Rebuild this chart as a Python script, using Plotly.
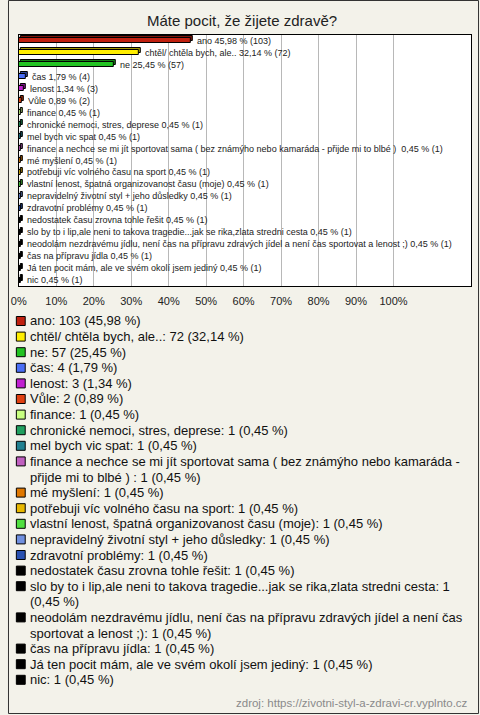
import unicodedata
import plotly.graph_objects as go

# ---------------- data ----------------
title = "Máte pocit, že žijete zdravě?"
source = "zdroj: https://zivotni-styl-a-zdravi-cr.vyplnto.cz"

labels = [
    "ano",
    "chtěl/ chtěla bych, ale..",
    "ne",
    "čas",
    "lenost",
    "Vůle",
    "finance",
    "chronické nemoci, stres, deprese",
    "mel bych vic spat",
    "finance a nechce se mi jít sportovat sama ( bez známýho nebo kamaráda - přijde mi to blbé ) ",
    "mé myšlení",
    "potřebuji víc volného času na sport",
    "vlastní lenost, špatná organizovanost času (moje)",
    "nepravidelný životní styl + jeho důsledky",
    "zdravotní problémy",
    "nedostatek času zrovna tohle řešit",
    "slo by to i lip,ale neni to takova tragedie...jak se rika,zlata stredni cesta",
    "neodolám nezdravému jídlu, není čas na přípravu zdravých jídel a není čas sportovat a lenost ;)",
    "čas na přípravu jídla",
    "Já ten pocit mám, ale ve svém okolí jsem jediný",
    "nic",
]
counts = [103, 72, 57, 4, 3, 2, 1, 1, 1, 1, 1, 1, 1, 1, 1, 1, 1, 1, 1, 1, 1]
percents = [45.98, 32.14, 25.45, 1.79, 1.34, 0.89, 0.45, 0.45, 0.45, 0.45, 0.45,
            0.45, 0.45, 0.45, 0.45, 0.45, 0.45, 0.45, 0.45, 0.45, 0.45]
colors = ["#c0200f", "#ffee00", "#22c322", "#4a6ef5", "#c020d0", "#e04010",
          "#c8ff80", "#20a060", "#208090", "#c060c0", "#e07800", "#e8b800",
          "#50e040", "#7090e0", "#2850b0", "#000000", "#000000", "#000000",
          "#000000", "#000000", "#000000"]
tick_values = [0, 10, 20, 30, 40, 50, 60, 70, 80, 90, 100]
tick_labels = [f"{v}%" for v in tick_values]

# ---------------- layout helpers ----------------
W, H = 480, 715
FONT = "Liberation Sans, Arial, sans-serif"
PX = lambda x: x / W
PY = lambda y: 1 - y / H

def fmt(v):
    return f"{v:.2f}".replace(".", ",")

def darker(hexc, f=0.65):
    r, g, b = int(hexc[1:3], 16), int(hexc[3:5], 16), int(hexc[5:7], 16)
    return f"rgb({int(r*f)},{int(g*f)},{int(b*f)})"

ARIAL = {" ": 278, "!": 278, "(": 333, ")": 333, ",": 278, "-": 333, ".": 278,
         "/": 278, ":": 278, ";": 278, "%": 889, "+": 584,
         "a": 556, "b": 556, "c": 500, "d": 556, "e": 556, "f": 278, "g": 556,
         "h": 556, "i": 222, "j": 222, "k": 500, "l": 222, "m": 833, "n": 556,
         "o": 556, "p": 556, "q": 556, "r": 333, "s": 500, "t": 278, "u": 556,
         "v": 500, "w": 722, "x": 500, "y": 500, "z": 500, "J": 500, "V": 667}

def text_width(s, size):
    tot = 0
    for ch in s:
        base = unicodedata.normalize("NFD", ch)[0]
        if base.isdigit():
            tot += 556
        else:
            tot += ARIAL.get(base, 667 if base.isupper() else 556)
    return tot * size / 1000.0

def wrap(s, size, maxw):
    words = s.split(" ")
    lines, cur = [], ""
    for w_ in words:
        cand = w_ if cur == "" else cur + " " + w_
        if cur != "" and text_width(cand, size) > maxw:
            lines.append(cur)
            cur = w_
        else:
            cur = cand
    lines.append(cur)
    return lines

n = len(labels)
ypos = list(range(n))
BAR_W = 0.42
DEPTH_Y = 0.17
DEPTH_X = 0.55

fig = go.Figure()
# back (depth) faces
fig.add_trace(go.Bar(
    y=ypos, x=percents, base=[DEPTH_X] * n, orientation="h",
    width=BAR_W, offset=-BAR_W / 2 - DEPTH_Y,
    marker=dict(color=[darker(c) for c in colors], line=dict(color="#000", width=1)),
    hoverinfo="skip", showlegend=False))
# front faces
fig.add_trace(go.Bar(
    y=ypos, x=percents, base=[0] * n, orientation="h",
    width=BAR_W, offset=-BAR_W / 2,
    marker=dict(color=colors, line=dict(color="#000", width=1)),
    showlegend=False))

annotations = []
# bar labels
for i in range(n):
    annotations.append(dict(
        x=percents[i], y=ypos[i], xref="x", yref="y", xanchor="left", yanchor="middle",
        xshift=4, showarrow=False,
        text=f"{labels[i]} {fmt(percents[i])} % ({counts[i]})",
        font=dict(family=FONT, size=9, color="#222")))

# title
annotations.append(dict(x=PX(238), y=PY(20), xref="paper", yref="paper",
                        xanchor="center", yanchor="middle", showarrow=False,
                        text=title, font=dict(family=FONT, size=15, color="#222")))
# source
annotations.append(dict(x=PX(470), y=PY(703), xref="paper", yref="paper",
                        xanchor="right", yanchor="middle", showarrow=False,
                        text=source, font=dict(family=FONT, size=11.5, color="#8a8a8a")))

# legend (text + squares)
shapes = []
LEG_TOP = 321
LINE_H = 15.6
line_idx = 0
for i in range(n):
    txt = f"{labels[i]}: {counts[i]} ({fmt(percents[i])} %)"
    lines = wrap(txt, 13, 450)
    yc = LEG_TOP + line_idx * LINE_H
    shapes.append(dict(type="rect", xref="paper", yref="paper",
                       x0=PX(8.5), x1=PX(17.5), y0=PY(yc - 4.5), y1=PY(yc + 4.5),
                       fillcolor=colors[i], line=dict(color="#000", width=1)))
    for ln in lines:
        yl = LEG_TOP + line_idx * LINE_H
        annotations.append(dict(x=PX(20), y=PY(yl), xref="paper", yref="paper",
                                xanchor="left", yanchor="middle", showarrow=False,
                                text=ln, font=dict(family=FONT, size=13, color="#111")))
        line_idx += 1

# outer border
shapes.append(dict(type="rect", xref="paper", yref="paper",
                   x0=PX(0.5), x1=PX(478.5), y0=PY(713.5), y1=PY(0.5),
                   line=dict(color="#333", width=1), layer="below"))

fig.update_layout(
    width=W, height=H, autosize=False,
    margin=dict(l=0, r=0, t=0, b=0, pad=0),
    paper_bgcolor="#f3f2ea", plot_bgcolor="#ffffff",
    barmode="overlay", bargap=0,
    showlegend=False,
    annotations=annotations, shapes=shapes,
    xaxis=dict(domain=[PX(11), PX(471)], range=[0, 460 / 3.81],
               tickvals=tick_values, ticktext=tick_labels, ticks="",
               ticklabelstandoff=5,
               tickfont=dict(family=FONT, size=11, color="#222"),
               showgrid=True, gridcolor="#b8b8b8", gridwidth=1, zeroline=False,
               showline=True, mirror=True, linecolor="#000", linewidth=1,
               fixedrange=True),
    yaxis=dict(domain=[PY(286), PY(35)], range=[n - 0.5, -0.5],
               showticklabels=False, ticks="", showgrid=False, zeroline=False,
               showline=True, mirror=True, linecolor="#000", linewidth=1,
               fixedrange=True),
)

fig.write_html("out.html", config={"displayModeBar": False},
               post_script="document.body.style.margin='0';document.body.style.overflow='hidden';")
